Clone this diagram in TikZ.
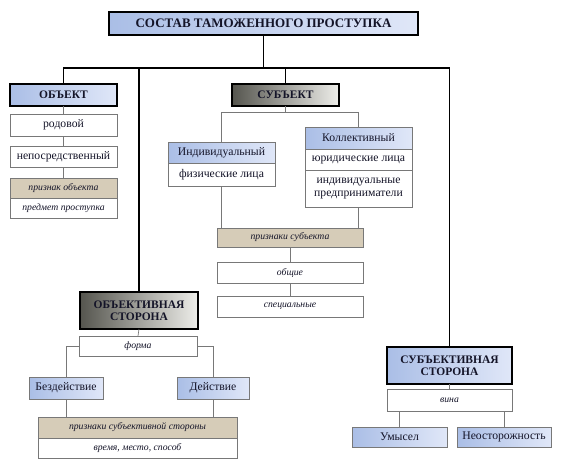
\documentclass[tikz,border=0pt]{standalone}
\usepackage{fontspec}
\setmainfont{Liberation Serif}
\usetikzlibrary{calc}
\definecolor{bluL}{RGB}{170,190,230}
\definecolor{bluR}{RGB}{224,231,248}
\definecolor{gryL}{RGB}{85,85,78}
\definecolor{gryR}{RGB}{238,238,234}
\definecolor{tan}{RGB}{214,204,184}
\definecolor{thin}{RGB}{120,120,120}
\definecolor{ink}{RGB}{20,20,40}
\newcommand\bx[7]{\node[#6, minimum width={(#4-#2)*1pt}, minimum height={(#5-#3)*1pt}] (#1) at ({(#2+#4)/2*1pt},{-(#3+#5)/2*1pt}) {#7};}
\tikzset{
  every node/.style={inner sep=0pt, outer sep=0pt, align=center, text=ink},
  headbox/.style={draw=black, line width=1.3pt, left color=bluL, right color=bluR, font=\bfseries\fontsize{11.5}{12.5}\selectfont},
  graybox/.style={draw=black, line width=1.3pt, left color=gryL, right color=gryR, font=\bfseries\fontsize{11.5}{12.5}\selectfont},
  plain/.style={draw=thin, line width=0.6pt, fill=white, font=\fontsize{11.7}{12.5}\selectfont},
  subbox/.style={draw=thin, line width=0.6pt, left color=bluL, right color=bluR, font=\fontsize{11.7}{12.5}\selectfont},
  itbox/.style={draw=thin, line width=0.6pt, fill=white, font=\itshape\fontsize{9.7}{10.5}\selectfont},
  tanbox/.style={draw=thin, line width=0.6pt, fill=tan, font=\itshape\fontsize{9.7}{10.5}\selectfont},
  main/.style={draw=black, line width=1.3pt},
  sub/.style={draw=thin, line width=0.7pt}
}
\begin{document}
\begin{tikzpicture}[x=1pt,y=1pt]
\useasboundingbox (0,0) rectangle (565,-474);
\coordinate (bus) at (263.5,-68);
\coordinate (sbus) at (285.5,-112);
% boxes
\bx{title}{109}{12}{418}{35}{headbox, font=\bfseries\fontsize{13}{14}\selectfont}{СОСТАВ ТАМОЖЕННОГО ПРОСТУПКА}
\bx{obj}{10}{84}{117}{106}{headbox}{ОБЪЕКТ}
\bx{rod}{10}{114}{117}{136}{plain}{родовой}
\bx{nep}{10}{146}{117}{167}{plain}{непосредственный}
\bx{po}{10}{178}{117}{198}{tanbox}{признак объекта}
\bx{pp}{10}{198}{117}{218}{itbox}{предмет проступка}
\bx{subj}{232}{84}{339}{106}{graybox}{СУБЪЕКТ}
\bx{ind}{168}{142}{275}{163}{subbox}{Индивидуальный}
\bx{fiz}{168}{163}{275}{186}{plain}{физические лица}
\bx{kol}{305}{127}{412}{149}{subbox}{Коллективный}
\bx{yur}{305}{149}{412}{170}{plain}{юридические лица}
\bx{ip}{305}{170}{412}{207}{plain}{индивидуальные\\предприниматели}
\bx{ps}{217}{228}{363}{247}{tanbox}{признаки субъекта}
\bx{ob}{217}{262}{363}{283}{itbox}{общие}
\bx{sp}{217}{296}{363}{317}{itbox}{специальные}
\bx{osto}{80}{292}{198}{329}{graybox}{ОБЪЕКТИВНАЯ\\СТОРОНА}
\bx{forma}{79}{336}{197}{356}{itbox}{форма}
\bx{bez}{29}{377}{103}{399}{subbox}{Бездействие}
\bx{dei}{177}{377}{249}{399}{subbox}{Действие}
\bx{pso}{38}{417}{237}{438}{tanbox}{признаки субъективной стороны}
\bx{vms}{38}{438}{237}{458}{itbox}{время, место, способ}
\bx{ssto}{387}{347}{512}{384}{headbox}{СУБЪЕКТИВНАЯ\\СТОРОНА}
\bx{vina}{387}{389}{512}{411}{itbox}{вина}
\bx{um}{352}{427}{447}{447}{subbox}{Умысел}
\bx{neo}{457}{427}{551}{447}{subbox}{Неосторожность}
% connectors
\draw[main] (title.south) -- (bus);
\draw[main] (obj.north) |- (bus);
\draw[main] (osto.north) |- (bus);
\draw[main] (subj.north) |- (bus);
\draw[main] (ssto.north) |- (bus);
\draw[sub] (obj.south) -- (rod.north);
\draw[sub] (rod.south) -- (nep.north);
\draw[sub] (nep.south) -- (po.north);
\draw[sub] (subj.south) -- (sbus);
\draw[sub] (ind.north) |- (sbus);
\draw[sub] (kol.north) |- (sbus);
\draw[sub] (fiz.south) -- (fiz.south |- ps.north);
\draw[sub] (ip.south) -- (ip.south |- ps.north);
\draw[sub] (ps.south) -- (ob.north);
\draw[sub] (ob.south) -- (sp.north);
\draw[sub] (osto.south) -- (forma.north);
\draw[sub] (bez.north) |- (forma.west);
\draw[sub] (dei.north) |- (forma.east);
\draw[sub] (bez.south) -- (bez.south |- pso.north);
\draw[sub] (dei.south) -- (dei.south |- pso.north);
\draw[sub] (ssto.south) -- (vina.north);
\draw[sub] (um.north) -- (um.north |- vina.south);
\draw[sub] (neo.north) -- (neo.north |- vina.south);
\end{tikzpicture}
\end{document}
